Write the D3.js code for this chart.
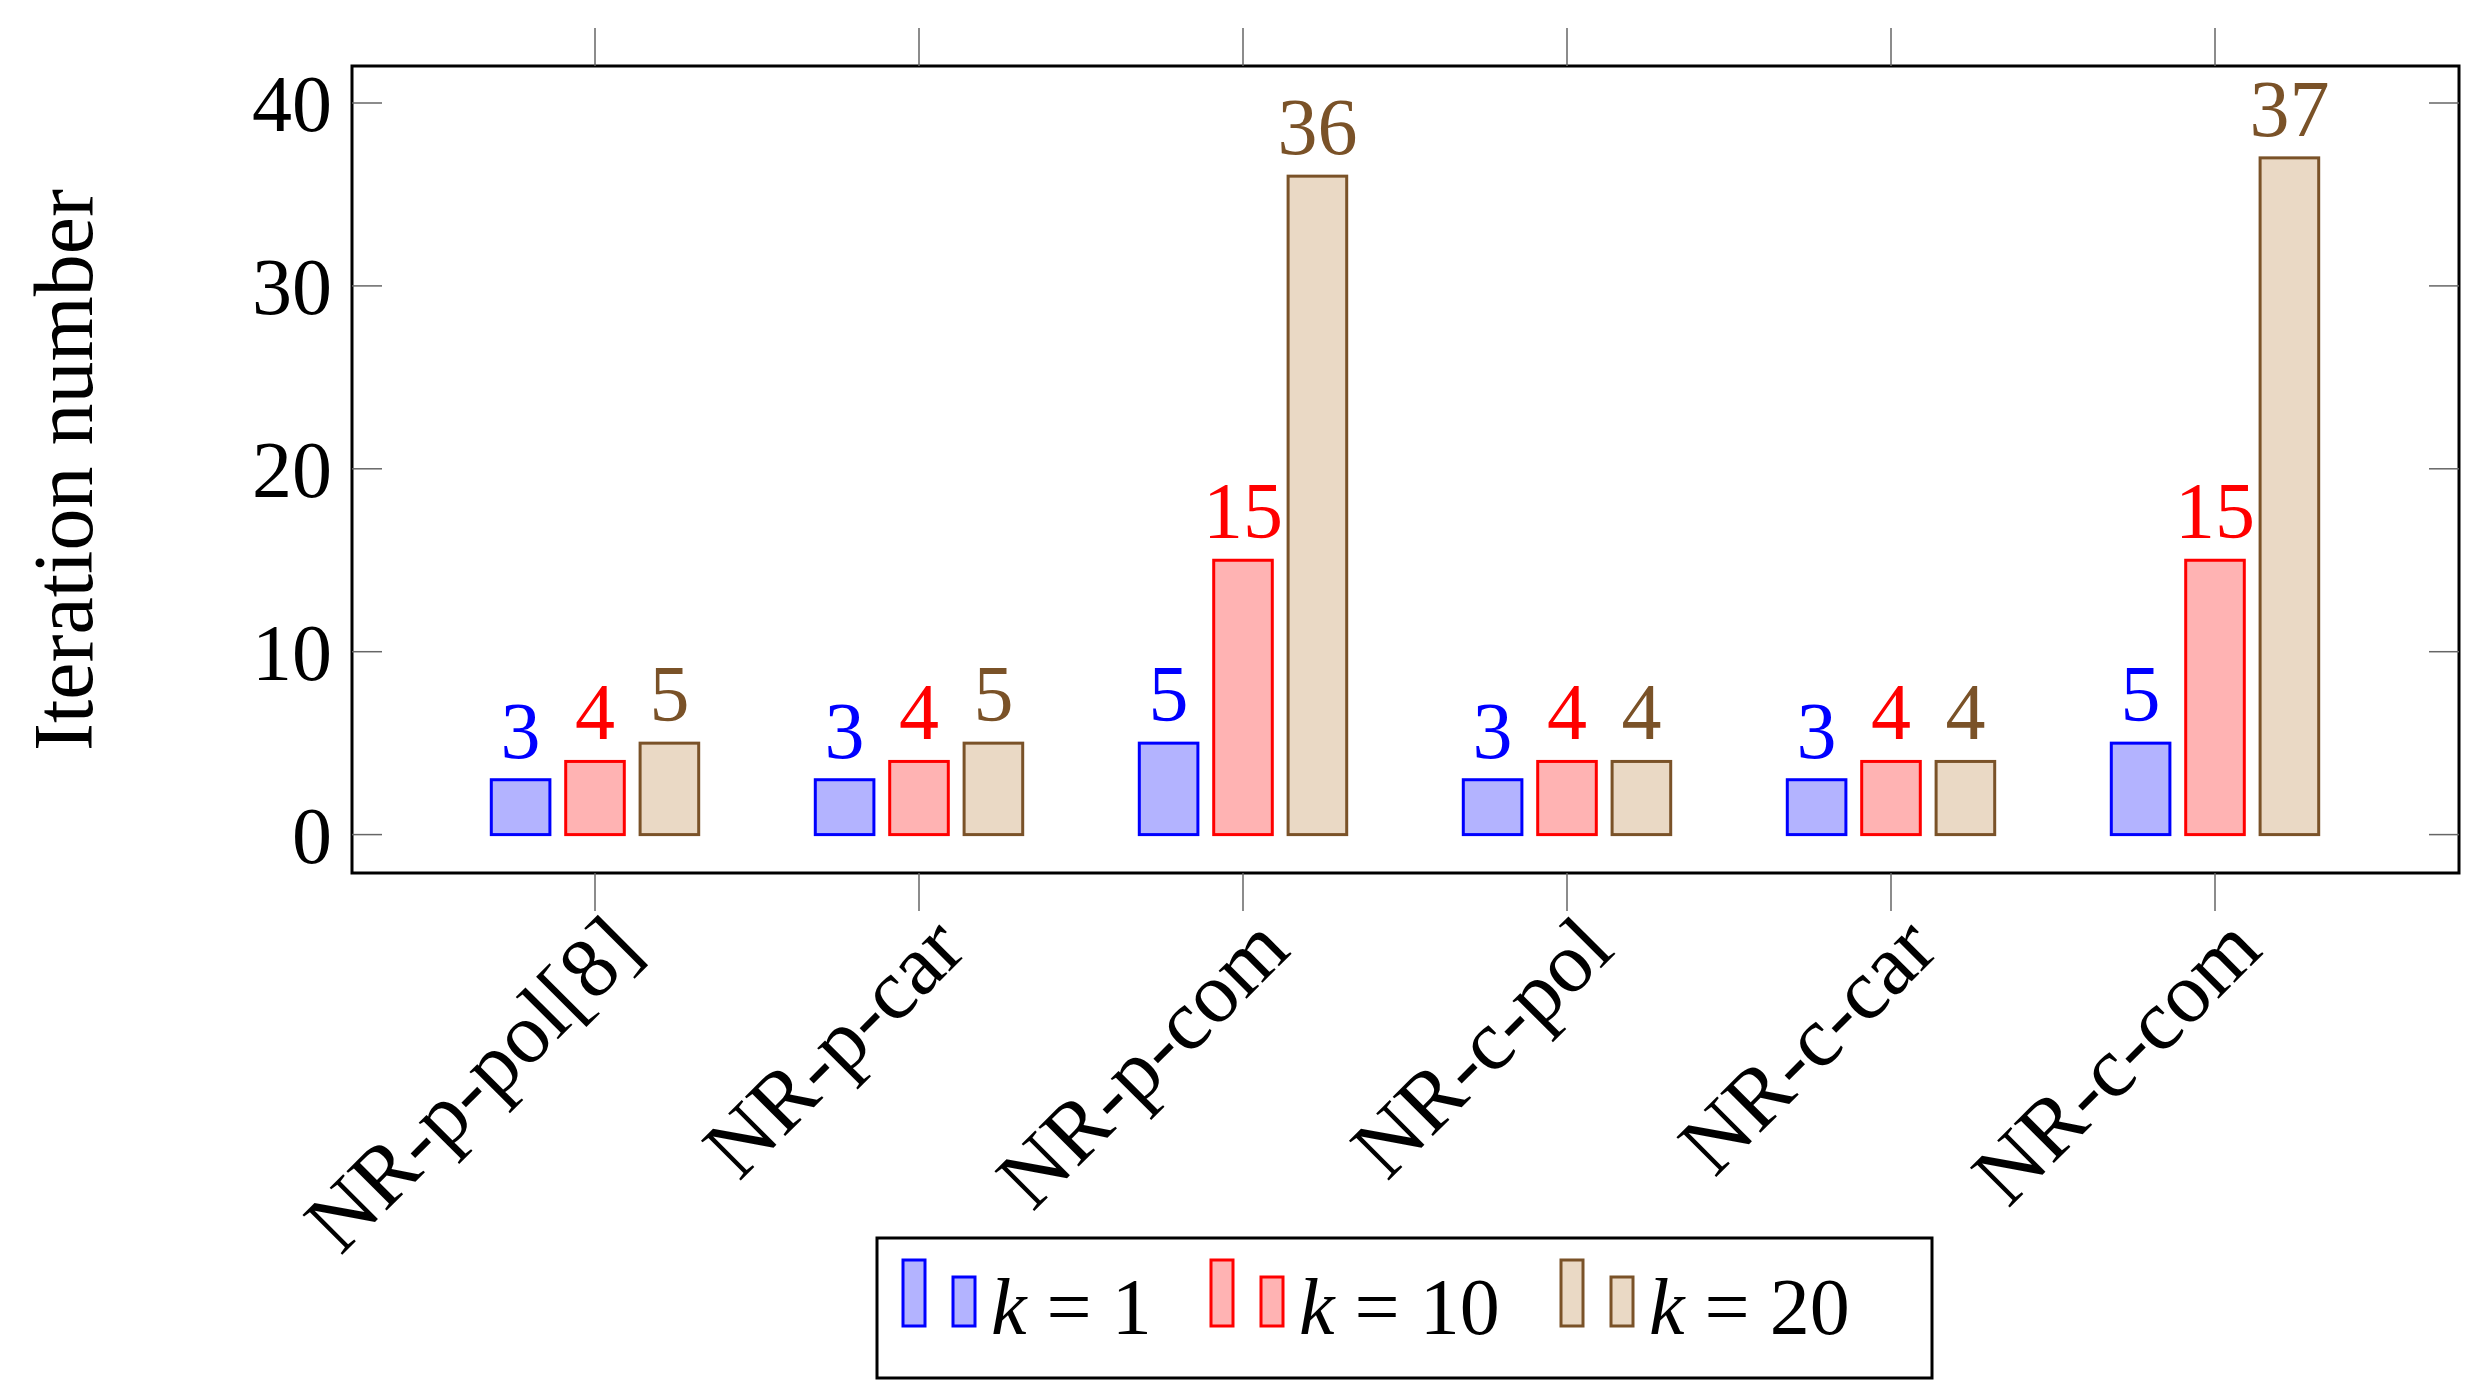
<!DOCTYPE html><html><head><meta charset="utf-8"><script src="https://d3js.org/d3.v7.min.js"></script>
<style>body{margin:0;background:#fff}</style></head><body><svg id="c" width="2483" height="1397"></svg><script>
const categories=["NR-p-pol[8]","NR-p-car","NR-p-com","NR-c-pol","NR-c-car","NR-c-com"];
const seriesNames=["k = 1","k = 10","k = 20"];
const k1=[3,3,5,3,3,5];
const k10=[4,4,15,4,4,15];
const k20=[5,5,36,4,4,37];
const yTicks=[0,10,20,30,40];
const strokes=["#0000ff","#ff0000","#7a5228"];
const fills=["#b3b3ff","#ffb3b3","#ead9c5"];
const data=[k1,k10,k20];
const svg=d3.select("#c");
const L=352,R=2459,T=66,B=873;
const x=d3.scalePoint().domain(categories).range([595,2215]);
const y=d3.scaleLinear().domain([0,40]).range([834.6,103]);
const font="'Liberation Serif',serif";
const off=[-74.4,0,74.4], bw=58.6;
data.forEach((s,si)=>{
 svg.append("g").selectAll("rect").data(s).enter().append("rect")
 .attr("x",(d,i)=>x(categories[i])+off[si]-bw/2).attr("width",bw)
 .attr("y",d=>y(d)).attr("height",d=>y(0)-y(d))
 .attr("fill",fills[si]).attr("stroke",strokes[si]).attr("stroke-width",3);
 svg.append("g").selectAll("text").data(s).enter().append("text")
 .attr("x",(d,i)=>x(categories[i])+off[si]).attr("y",d=>y(d)-22)
 .attr("text-anchor","middle").attr("font-family",font).attr("font-size",80)
 .attr("fill",strokes[si]).text(d=>d);
});
svg.append("rect").attr("x",L).attr("y",T).attr("width",R-L).attr("height",B-T).attr("fill","none").attr("stroke","#000").attr("stroke-width",3);
const g=svg.append("g");
categories.forEach(c=>{
 g.append("line").attr("x1",x(c)).attr("x2",x(c)).attr("y1",T-38).attr("y2",T).attr("stroke","#666").attr("stroke-width",1.5);
 g.append("line").attr("x1",x(c)).attr("x2",x(c)).attr("y1",B).attr("y2",B+38).attr("stroke","#666").attr("stroke-width",1.5);
 g.append("text").attr("transform",`translate(${x(c)+4},${B+34}) rotate(-45)`).attr("text-anchor","end").attr("dy","0.75em")
  .attr("font-family",font).attr("font-size",86).text(c);
});
yTicks.forEach(t=>{
 g.append("line").attr("x1",L).attr("x2",L+30).attr("y1",y(t)).attr("y2",y(t)).attr("stroke","#666").attr("stroke-width",1.5);
 g.append("line").attr("x1",R-30).attr("x2",R).attr("y1",y(t)).attr("y2",y(t)).attr("stroke","#666").attr("stroke-width",1.5);
 g.append("text").attr("x",L-20).attr("y",y(t)).attr("dy","0.35em").attr("text-anchor","end").attr("font-family",font).attr("font-size",80).text(t);
});
svg.append("text").attr("transform","translate(92,470) rotate(-90)").attr("text-anchor","middle").attr("font-family",font).attr("font-size",84).text("Iteration number");
// legend
svg.append("rect").attr("x",877).attr("y",1238).attr("width",1055).attr("height",140).attr("fill","#fff").attr("stroke","#000").attr("stroke-width",3);
const lg=svg.append("g");
const lx=[903,1211,1561];
seriesNames.forEach((n,i)=>{
 const gx=lx[i];
 lg.append("rect").attr("x",gx).attr("y",1260).attr("width",22).attr("height",66).attr("fill",fills[i]).attr("stroke",strokes[i]).attr("stroke-width",3);
 lg.append("rect").attr("x",gx+50).attr("y",1277).attr("width",22).attr("height",49).attr("fill",fills[i]).attr("stroke",strokes[i]).attr("stroke-width",3);
 const parts=n.split(" = ");
 const t=lg.append("text").attr("x",gx+88).attr("y",1334).attr("font-family",font).attr("font-size",80);
 t.append("tspan").attr("font-style","italic").text(parts[0]);
 t.append("tspan").text(" = "+parts[1]);
});
</script></body></html>
